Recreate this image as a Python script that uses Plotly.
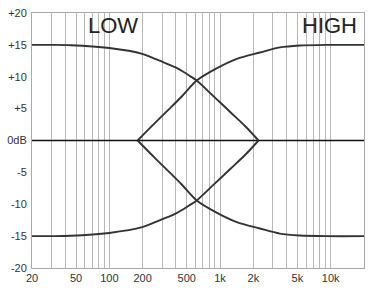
import numpy as np
import plotly.graph_objects as go

# --- data ---
low_freq = [20, 30, 45, 100, 198, 234, 306, 393, 470, 537, 616, 866, 1250, 1700, 2230]
low_db = [15, 15, 14.95, 14.5, 13.6, 13.1, 12.3, 11.5, 10.75, 10.1, 9.4, 7.0, 4.4, 2.2, 0]

high_freq = [180, 260, 360, 451, 616, 931, 1418, 2290, 3470, 5240, 9200, 20000]
high_db = [0, 2.8, 5.2, 6.9, 9.4, 11.3, 12.8, 13.8, 14.6, 14.9, 15, 15]

grid_freqs = [20, 30, 40, 50, 60, 70, 80, 90, 100, 200, 300, 400, 500, 600, 700, 800, 900,
              1000, 2000, 3000, 4000, 5000, 6000, 7000, 8000, 9000, 10000, 20000]
x_labels = {20: "20", 50: "50", 100: "100", 200: "200", 500: "500", 1000: "1k",
            2000: "2k", 5000: "5k", 10000: "10k"}
y_ticks = [-20, -15, -10, -5, 0, 5, 10, 15, 20]
y_labels = ["-20", "-15", "-10", "-5", "0dB", "+5", "+10", "+15", "+20"]

curve_color = "#333333"
fig = go.Figure()

# 0 dB line
fig.add_trace(go.Scatter(x=[20, 20000], y=[0, 0], mode="lines",
                         line=dict(color="#111111", width=1.3), hoverinfo="skip"))
for sign in (1, -1):
    fig.add_trace(go.Scatter(x=low_freq, y=[sign * v for v in low_db], mode="lines",
                             line=dict(color=curve_color, width=1.9, shape="spline", smoothing=0.8),
                             hoverinfo="skip"))
    fig.add_trace(go.Scatter(x=high_freq, y=[sign * v for v in high_db], mode="lines",
                             line=dict(color=curve_color, width=1.9, shape="spline", smoothing=0.8),
                             hoverinfo="skip"))

fig.add_annotation(x=np.log10(107), y=18.1, text="LOW", showarrow=False,
                   font=dict(family="Liberation Sans", size=22, color="#222222"))
fig.add_annotation(x=np.log10(9800), y=18.1, text="HIGH", showarrow=False,
                   font=dict(family="Liberation Sans", size=22, color="#222222"))

fig.update_xaxes(type="log", range=[np.log10(20), np.log10(20000)],
                 tickvals=grid_freqs, ticktext=[x_labels.get(f, "") for f in grid_freqs],
                 showgrid=True, gridcolor="#b8b8b8", gridwidth=1,
                 showline=True, linecolor="#aaaaaa", linewidth=1, mirror=True,
                 ticks="", zeroline=False,
                 tickfont=dict(family="Liberation Sans", size=11, color="#333333"))
fig.update_yaxes(range=[-20, 20], tickvals=y_ticks, ticktext=y_labels,
                 showgrid=False, zeroline=False,
                 showline=True, linecolor="#aaaaaa", linewidth=1, mirror=True,
                 ticks="", ticklabelstandoff=2,
                 tickfont=dict(family="Liberation Sans", size=11, color="#333333"))

fig.update_layout(width=372, height=299, margin=dict(l=31, r=7, t=10, b=31),
                  paper_bgcolor="white", plot_bgcolor="white", showlegend=False)

fig.write_html("out.html")
